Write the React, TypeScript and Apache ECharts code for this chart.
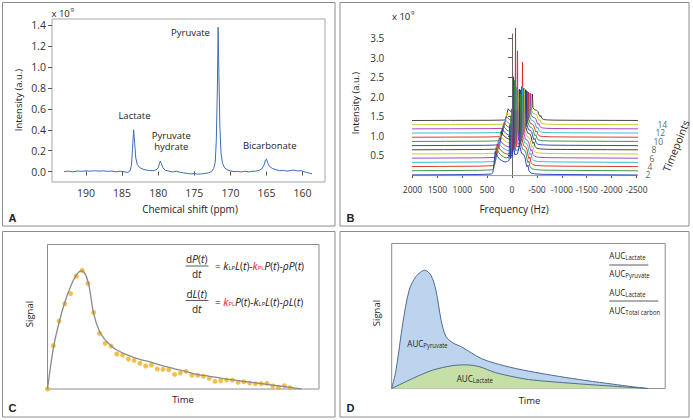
import React, { useEffect, useRef } from "react";
import * as echarts from "echarts";

// ---------- Panel A: 13C spectrum ----------
const shiftPpm = [193.0, 192.4, 191.8, 191.2, 190.6, 190.0, 189.4, 188.8, 188.2, 187.6, 187.0, 186.4, 185.8, 185.2, 184.6, 184.2, 183.9, 183.7, 183.55, 183.4, 183.25, 183.1, 182.9, 182.6, 182.2, 181.7, 181.2, 180.7, 180.3, 180.0, 179.85, 179.7, 179.55, 179.35, 179.0, 178.5, 178.0, 177.5, 177.0, 176.5, 176.0, 175.5, 175.0, 174.5, 174.0, 173.5, 173.0, 172.6, 172.3, 172.1, 171.95, 171.8, 171.7, 171.6, 171.45, 171.3, 171.1, 170.8, 170.4, 170.0, 169.5, 169.0, 168.5, 168.0, 167.5, 167.0, 166.5, 166.0, 165.6, 165.3, 165.15, 165.0, 164.85, 164.6, 164.2, 163.7, 163.2, 162.7, 162.2, 161.7, 161.2, 160.7, 160.2, 159.7, 159.2, 158.7];
const intensityA = [0.0, 0.004, -0.003, 0.005, 0.002, 0.006, 0.003, 0.008, 0.004, 0.007, 0.002, 0.004, -0.002, 0.003, -0.004, -0.008, 0.005, 0.06, 0.22, 0.4, 0.27, 0.13, 0.07, 0.04, 0.025, 0.015, 0.01, 0.008, 0.015, 0.035, 0.07, 0.1, 0.075, 0.035, 0.012, 0.004, -0.004, 0.003, -0.006, -0.012, -0.018, -0.022, -0.02, -0.025, -0.022, -0.018, -0.012, 0.0, 0.03, 0.09, 0.3, 0.8, 1.38, 0.95, 0.42, 0.18, 0.08, 0.035, 0.015, 0.006, 0.0, 0.002, -0.004, 0.003, -0.003, 0.002, 0.004, 0.012, 0.03, 0.07, 0.11, 0.12, 0.085, 0.05, 0.03, 0.018, 0.008, 0.012, 0.004, 0.01, 0.014, 0.006, 0.008, -0.004, -0.012, -0.022];
const ppmTicks = [190, 185, 180, 175, 170, 165, 160];
const intensityTicksA = [0, 0.2, 0.4, 0.6, 0.8, 1.0, 1.2, 1.4];

// ---------- Panel B: dynamic spectra (waterfall) ----------
const bFreq = [2430, 1500, 700, 420, 385, 360, 340, 310, 260, 200, 140, 90, 60, 45, 30, 0, -10, -20, -30, -40, -50, -80, -110, -140, -150, -160, -190, -230, -260, -280, -300, -320, -340, -380, -450, -600, -1000, -1800, -2560];
const bHump = [0, 0.01, 0.02, 0.04, 0.1, 0.55, 1.0, 0.85, 0.7, 0.6, 0.55, 0.58, 0.62, 0.65, 0.7, 0.8, 0.82, 0.84, 0.85, 0.86, 0.87, 0.88, 0.9, 0.92, 0.93, 0.93, 0.92, 0.88, 0.75, 0.5, 0.35, 0.42, 0.18, 0.08, 0.05, 0.03, 0.02, 0.01, 0];
const bPyrShape = [0, 0, 0, 0, 0, 0, 0, 0, 0, 0, 0, 0, 0, 0, 0, 0, 0, 0.12, 1, 0.12, 0, 0, 0, 0, 0, 0, 0, 0, 0, 0, 0, 0, 0, 0, 0, 0, 0, 0, 0];
const bLacShape = [0, 0, 0, 0, 0, 0, 0, 0, 0, 0, 0, 0, 0, 0, 0, 0, 0, 0, 0, 0, 0, 0, 0, 0.12, 1, 0.12, 0, 0, 0, 0, 0, 0, 0, 0, 0, 0, 0, 0, 0];
const bSideShape = [0, 0, 0, 0, 0, 0, 0, 0, 0, 0, 0, 0, 0, 1, 0, 0, 0, 0, 0, 0, 0, 0, 0, 0, 0, 0, 0, 0, 0, 0, 0, 0, 0, 0, 0, 0, 0, 0, 0];
const bHumpScale = [0.6, 0.6, 0.58, 0.55, 0.52, 0.5, 0.47, 0.44, 0.41, 0.38, 0.35, 0.33, 0.31, 0.3];
const bPyrHeight = [2.0, 1.8, 3.05, 1.45, 2.3, 1.2, 1.15, 1.05, 1.0, 1.6, 0.85, 0.75, 0.5, 0.3];
const bLacHeight = [1.3, 1.4, 1.5, 1.4, 1.3, 1.2, 1.1, 1.0, 0.9, 0.8, 0.7, 0.6, 0.5, 0.4];
const bSideHeight = [0.9, 1.0, 1.1, 1.0, 0.9, 0.8, 0.7, 0.6, 0.55, 0.5, 0.45, 0.4, 0.35, 0.3];
const bColors = ["#2233bb", "#2e8b3a", "#dd2222", "#22b5c8", "#a030c0", "#c8c41e", "#333333"];
const freqTicks = [2000, 1500, 1000, 500, 0, -500, -1000, -1500, -2000, -2500];
const intensityTicksB = [0.5, 1.0, 1.5, 2.0, 2.5, 3.0, 3.5];
const timepointTicks = [2, 4, 6, 8, 10, 12, 14];

// ---------- Panel C: kinetic model fit ----------
const cTimes = [0, 1, 2, 3, 4, 5, 6, 7, 8, 9, 10, 11, 12, 13, 14, 15, 16, 17, 18, 19, 20, 21, 22, 23, 24, 25, 26, 27, 28, 29, 30, 31, 32, 33, 34, 35, 36, 37, 38, 39, 40, 41, 42];
const cSignal = [0, 0.3, 0.47, 0.59, 0.66, 0.78, 0.82, 0.73, 0.53, 0.385, 0.316, 0.297, 0.242, 0.235, 0.207, 0.198, 0.178, 0.159, 0.166, 0.138, 0.136, 0.133, 0.101, 0.11, 0.122, 0.095, 0.095, 0.088, 0.074, 0.053, 0.057, 0.062, 0.062, 0.046, 0.05, 0.041, 0.037, 0.037, 0.039, 0.021, 0.012, 0.023, 0.009];
const cFitTimes = [0, 1, 2, 3, 4, 5, 5.9, 6.6, 7.2, 8, 9, 10, 11, 12, 14, 16, 18, 20, 22, 24, 26, 28, 30, 32, 34, 36, 38, 40, 42, 44];
const cFitSignal = [0, 0.28, 0.46, 0.6, 0.71, 0.79, 0.818, 0.79, 0.71, 0.52, 0.4, 0.34, 0.3, 0.27, 0.232, 0.205, 0.185, 0.16, 0.14, 0.12, 0.1, 0.088, 0.075, 0.063, 0.052, 0.042, 0.032, 0.022, 0.011, 0];

// ---------- Panel D: AUC ----------
const dTimesPyr = [0, 0.74, 1.9, 3.0, 4.2, 5.7, 6.75, 7.6, 8.5, 9.3, 10.5, 12, 15.5, 19.5, 23.5, 28.8, 33.4, 38, 41.4, 44];
const dPyr = [0, 0.126, 0.448, 0.678, 0.774, 0.816, 0.78, 0.678, 0.47, 0.36, 0.315, 0.287, 0.205, 0.155, 0.12, 0.083, 0.055, 0.03, 0.012, 0];
const dTimesLac = [0, 3.6, 7, 10.5, 12.8, 15.1, 17.8, 21, 23.5, 26.5, 32.2, 38, 44];
const dLac = [0, 0.069, 0.126, 0.158, 0.163, 0.15, 0.11, 0.08, 0.062, 0.05, 0.032, 0.016, 0];

const FONT = "'Open Sans', 'Noto Sans', sans-serif";
const DX_HZ = 20; // depth shift per timepoint (projection)
const DY = 0.107; // vertical shift per timepoint (projection)

function txt(x: number, y: number, text: string, o: any = {}) {
  return {
    type: "text",
    x,
    y,
    rotation: o.rotation || 0,
    scaleX: o.scaleX || 1,
    z: 100,
    style: {
      text,
      fill: o.color || "#222",
      fontSize: o.size || 10,
      fontFamily: o.family || FONT,
      fontWeight: o.weight || "normal",
      fontStyle: o.style || "normal",
      textAlign: o.align || "center",
      textVerticalAlign: o.va || "middle",
      rich: o.rich,
    },
  };
}
function hline(x1: number, x2: number, y: number, color = "#333") {
  return { type: "line", z: 100, shape: { x1, y1: y, x2, y2: y }, style: { stroke: color, lineWidth: 0.8 } };
}
function rect(x: number, y: number, w: number, h: number) {
  return { type: "rect", z: 90, shape: { x, y, width: w, height: h }, style: { fill: "none", stroke: "#8c8c8c", lineWidth: 1 } };
}

const eqRich = (() => {
  const base = { fontFamily: FONT, fontSize: 10.5, fill: "#222", color: "#222" };
  return {
    i: { ...base, fontStyle: "italic" },
    s: { ...base, fontSize: 5.8, verticalAlign: "bottom" },
    r: { ...base, fontStyle: "italic", fill: "#e8202a", color: "#e8202a" },
    rs: { ...base, fontSize: 5.8, fill: "#e8202a", color: "#e8202a", verticalAlign: "bottom" },
  };
})();
const aucRich = {
  a: { fontFamily: FONT, fontSize: 9.5, fill: "#222", color: "#222" },
  s: { fontFamily: FONT, fontSize: 7, fill: "#222", color: "#222", verticalAlign: "bottom" },
};
const auc = (x: number, y: number, sub: string) =>
  txt(x, y, `{a|AUC}{s|${sub}}`, { align: "left", rich: aucRich, scaleX: 0.85 });

function buildOption() {
  const tickStyle = { color: "#555" };
  const labelStyle = (size: number) => ({ color: "#333", fontSize: size, fontFamily: FONT });

  const bTraces: any[] = [];
  for (let i = bHumpScale.length - 1; i >= 0; i--) {
    bTraces.push({
      type: "line",
      xAxisIndex: 1,
      yAxisIndex: 1,
      clip: false,
      showSymbol: false,
      silent: true,
      lineStyle: { color: bColors[i % bColors.length], width: 0.9 },
      itemStyle: { color: bColors[i % bColors.length] },
      data: bFreq.map((f, j) => [
        f - i * DX_HZ,
        i * DY + bHump[j] * bHumpScale[i] + bPyrShape[j] * bPyrHeight[i] + bLacShape[j] * bLacHeight[i] + bSideShape[j] * bSideHeight[i],
      ]),
    });
  }
  const lastIdx = bHumpScale.length - 1;
  const endHz = bFreq[bFreq.length - 1];
  const tpAxis = {
    type: "line",
    xAxisIndex: 1,
    yAxisIndex: 1,
    clip: false,
    showSymbol: false,
    silent: true,
    lineStyle: { color: "#555", width: 1 },
    data: [
      [endHz, 0],
      [endHz - lastIdx * DX_HZ, lastIdx * DY],
    ],
  };
  const tpTicks = timepointTicks.map((k) => ({
    type: "line",
    xAxisIndex: 1,
    yAxisIndex: 1,
    clip: false,
    showSymbol: false,
    silent: true,
    lineStyle: { color: "#555", width: 1 },
    data: [
      [endHz - (k - 1) * DX_HZ, (k - 1) * DY],
      [endHz - (k - 1) * DX_HZ - 70, (k - 1) * DY - 0.03],
    ],
  }));
  const tpLabels = {
    type: "scatter",
    xAxisIndex: 1,
    yAxisIndex: 1,
    clip: false,
    silent: true,
    symbolSize: 0,
    data: timepointTicks.map((k) => [endHz - (k - 1) * DX_HZ, (k - 1) * DY, k]),
    label: {
      show: true,
      position: "right",
      distance: 2,
      offset: [3, 4],
      lineHeight: 8,
      formatter: (p: any) => String(p.value[2]),
      ...labelStyle(8.5),
    },
  };
  const bBase = {
    type: "line",
    xAxisIndex: 1,
    yAxisIndex: 1,
    clip: false,
    showSymbol: false,
    silent: true,
    lineStyle: { color: "#9a9a9a", width: 1 },
    data: [
      [bFreq[0], -0.015],
      [endHz, -0.015],
    ],
  };

  return {
    animation: false,
    backgroundColor: "#fff",
    grid: [
      { left: 52, top: 19, width: 273, height: 163, show: true, borderColor: "#a5a5a5", borderWidth: 1 },
      { left: 412.5, top: 34, width: 224, height: 141 },
      { left: 47.5, top: 244.5, width: 271.5, height: 144.5, show: true, borderColor: "#8c8c8c", borderWidth: 1 },
      { left: 391.7, top: 243.5, width: 273.5, height: 145, show: true, borderColor: "#8c8c8c", borderWidth: 1 },
    ],
    xAxis: [
      {
        type: "value", gridIndex: 0, inverse: true, min: 156.9, max: 194.7,
        axisLine: { show: false }, splitLine: { show: false },
        axisTick: { show: true, length: 4, lineStyle: tickStyle, customValues: ppmTicks },
        axisLabel: { ...labelStyle(10.5), margin: 5, customValues: ppmTicks, formatter: (v: number) => String(v) },
      },
      {
        type: "value", gridIndex: 1, inverse: true, min: -2500, max: 2000,
        axisLine: { show: false }, splitLine: { show: false },
        axisTick: { show: true, length: 3, lineStyle: tickStyle, customValues: freqTicks },
        axisLabel: { ...labelStyle(8.5), margin: 10, customValues: freqTicks, formatter: (v: number) => String(v) },
      },
      { type: "value", gridIndex: 2, min: 0, max: 47, show: false },
      { type: "value", gridIndex: 3, min: 0, max: 47, show: false },
    ],
    yAxis: [
      {
        type: "value", gridIndex: 0, min: -0.1, max: 1.46,
        axisLine: { show: false }, splitLine: { show: false },
        axisTick: { show: true, length: 4, lineStyle: tickStyle, customValues: intensityTicksA },
        axisLabel: { ...labelStyle(10.5), margin: 6, customValues: intensityTicksA, formatter: (v: number) => v.toFixed(1) },
      },
      {
        type: "value", gridIndex: 1, min: 0, max: 3.6, offset: 21.2,
        axisLine: { show: true, lineStyle: { color: "#666" } }, splitLine: { show: false },
        axisTick: { show: true, length: 4, lineStyle: tickStyle, customValues: intensityTicksB },
        axisLabel: { ...labelStyle(10), margin: 7, customValues: intensityTicksB, formatter: (v: number) => v.toFixed(1) },
      },
      { type: "value", gridIndex: 2, min: 0, max: 1, show: false },
      { type: "value", gridIndex: 3, min: 0, max: 1, show: false },
    ],
    series: [
      {
        type: "line", xAxisIndex: 0, yAxisIndex: 0, showSymbol: false, silent: true,
        lineStyle: { color: "#3b6fb6", width: 1 }, itemStyle: { color: "#3b6fb6" },
        data: shiftPpm.map((x, i) => [x, intensityA[i]]),
      },
      bBase,
      ...bTraces,
      tpAxis,
      ...tpTicks,
      tpLabels,
      {
        type: "line", xAxisIndex: 2, yAxisIndex: 2, showSymbol: false, silent: true, smooth: 0.3,
        lineStyle: { color: "#8a8a8a", width: 1.3 }, itemStyle: { color: "#8a8a8a" },
        data: cFitTimes.map((t, i) => [t, cFitSignal[i]]),
      },
      {
        type: "scatter", xAxisIndex: 2, yAxisIndex: 2, silent: true, symbolSize: 5, clip: false,
        itemStyle: { color: "#f0b020" },
        data: cTimes.map((t, i) => [t, cSignal[i]]),
      },
      {
        type: "line", xAxisIndex: 3, yAxisIndex: 3, showSymbol: false, silent: true, smooth: 0.3,
        lineStyle: { color: "#4f6b8f", width: 1 }, itemStyle: { color: "#4f6b8f" },
        areaStyle: { color: "#bcd4ee", opacity: 1 },
        data: dTimesPyr.map((t, i) => [t, dPyr[i]]),
      },
      {
        type: "line", xAxisIndex: 3, yAxisIndex: 3, showSymbol: false, silent: true, smooth: 0.3,
        lineStyle: { color: "#4f6b8f", width: 1 }, itemStyle: { color: "#4f6b8f" },
        areaStyle: { color: "#c6dfa6", opacity: 1 },
        data: dTimesLac.map((t, i) => [t, dLac[i]]),
      },
    ],
    graphic: [
      rect(2.5, 2.5, 332.5, 223.5),
      rect(340, 2.5, 349, 223.5),
      rect(2.5, 231.5, 332.5, 185.5),
      rect(340, 231.5, 349, 185.5),
      txt(12.5, 217.5, "A", { weight: "bold", size: 11, family: "'Liberation Sans', Arial, sans-serif" }),
      txt(350.5, 217.5, "B", { weight: "bold", size: 11, family: "'Liberation Sans', Arial, sans-serif" }),
      txt(12.5, 408, "C", { weight: "bold", size: 11, family: "'Liberation Sans', Arial, sans-serif" }),
      txt(350.5, 408, "D", { weight: "bold", size: 11, family: "'Liberation Sans', Arial, sans-serif" }),
      // Panel A
      txt(51.5, 13, "x 10", { align: "left", size: 9.5 }),
      txt(70.5, 9.5, "9", { align: "left", size: 6 }),
      txt(18, 100, "Intensity (a.u.)", { rotation: Math.PI / 2, size: 9.5 }),
      txt(190, 209, "Chemical shift (ppm)", { size: 10 }),
      txt(134.5, 115.5, "Lactate", { size: 9.5 }),
      txt(171.3, 135, "Pyruvate", { size: 9.5 }),
      txt(171.3, 146.7, "hydrate", { size: 9.5 }),
      txt(190.5, 32.3, "Pyruvate", { size: 9.5 }),
      txt(269.7, 145.7, "Bicarbonate", { size: 9.5 }),
      // Panel B
      txt(392, 16.5, "x 10", { align: "left", size: 9.5 }),
      txt(411, 13, "9", { align: "left", size: 6 }),
      txt(355, 103, "Intensity (a.u.)", { rotation: Math.PI / 2, size: 9.5 }),
      txt(514, 209, "Frequency (Hz)", { size: 10 }),
      txt(676, 146, "Timepoints", { rotation: 1.19, size: 10.5 }),
      // Panel C
      txt(29, 314, "Signal", { rotation: Math.PI / 2, size: 9.5 }),
      txt(183, 399.5, "Time", { size: 9.5 }),
      txt(196.7, 259, "d{i|P}({i|t})", { rich: eqRich }),
      hline(185.5, 208.5, 266),
      txt(196.7, 273.5, "d{i|t}", { rich: eqRich }),
      txt(215, 265.5, "= {i|k}{s|LP}{i|L}({i|t})-{r|k}{rs|PL}{i|P}({i|t})-{i|ρP}({i|t})", { align: "left", rich: eqRich }),
      txt(196.7, 294, "d{i|L}({i|t})", { rich: eqRich }),
      hline(185.5, 208.5, 300.5),
      txt(196.7, 308.5, "d{i|t}", { rich: eqRich }),
      txt(215, 301.5, "= {r|k}{rs|PL}{i|P}({i|t})-{i|k}{s|LP}{i|L}({i|t})-{i|ρL}({i|t})", { align: "left", rich: eqRich }),
      // Panel D
      txt(376, 313, "Signal", { rotation: Math.PI / 2, size: 9.5 }),
      txt(529.5, 400, "Time", { size: 9.5 }),
      auc(407.3, 343.3, "Pyruvate"),
      auc(456.7, 378.3, "Lactate"),
      auc(609.3, 256, "Lactate"),
      hline(609.3, 648.3, 265),
      auc(609.3, 273.5, "Pyruvate"),
      auc(609.3, 292.7, "Lactate"),
      hline(609.3, 658.3, 301),
      auc(609.3, 310.5, "Total carbon"),
    ],
  };
}

export default function App() {
  const ref = useRef<HTMLDivElement>(null);
  useEffect(() => {
    if (!ref.current) return;
    const chart = echarts.init(ref.current, null, { renderer: "svg" });
    chart.setOption(buildOption() as any);
    return () => chart.dispose();
  }, []);
  return (
    <div
      ref={ref}
      style={{ position: "fixed", left: 0, top: 0, width: 693, height: 420, background: "#fff" }}
    />
  );
}
